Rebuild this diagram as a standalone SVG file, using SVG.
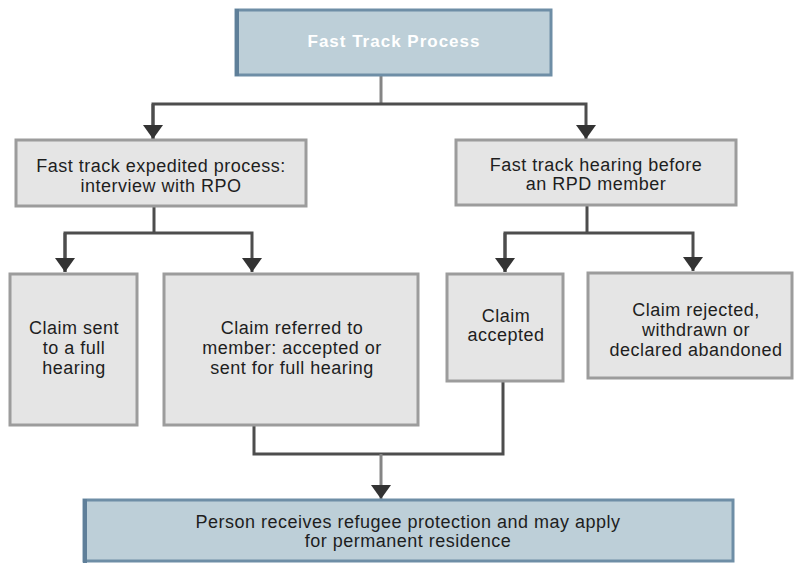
<svg xmlns="http://www.w3.org/2000/svg" width="795" height="563" viewBox="0 0 795 563">
<style>
.gbox{fill:#e5e5e5;stroke:#9c9c9c;stroke-width:3}
.bbox{fill:#bdcfd8;stroke:#6e8ea6;stroke-width:3}
.edge{stroke:#5f7f99;stroke-width:4}
.t{font-family:"Liberation Sans",Arial,sans-serif;font-size:18px;fill:#1e1e1e;text-anchor:middle;letter-spacing:0.5px}
.title{font-family:"Liberation Sans",Arial,sans-serif;font-size:17px;font-weight:bold;fill:#ffffff;text-anchor:middle;letter-spacing:1px}
.ln{fill:none;stroke:#4d4d4d;stroke-width:3}
.lt{fill:none;stroke:#858585;stroke-width:3}
</style>
<defs>
<marker id="ah" viewBox="0 0 14 20" refX="14" refY="10" markerWidth="14" markerHeight="20" markerUnits="userSpaceOnUse" orient="auto">
<path d="M0,0 L14,10 L0,20 z" fill="#333333"/>
</marker>
</defs>
<rect width="795" height="563" fill="#ffffff"/>
<g id="connectors">
<line class="lt" x1="381" y1="76" x2="381" y2="104"/>
<polyline class="ln" points="153,139 153,104 586,104 586,139" marker-end="url(#ah)"/>
<line class="ln" x1="153" y1="104" x2="153" y2="139" marker-end="url(#ah)"/>
<line class="ln" x1="154" y1="207" x2="154" y2="233"/>
<polyline class="ln" points="65,272 65,233 252,233 252,272" marker-end="url(#ah)"/>
<line class="ln" x1="65" y1="233" x2="65" y2="272" marker-end="url(#ah)"/>
<line class="ln" x1="587" y1="206" x2="587" y2="233"/>
<polyline class="ln" points="505,272 505,233 693,233 693,271" marker-end="url(#ah)"/>
<line class="ln" x1="505" y1="233" x2="505" y2="272" marker-end="url(#ah)"/>
<polyline class="ln" points="254,426 254,454 503,454 503,382"/>
<line class="lt" x1="381" y1="454" x2="381" y2="499" marker-end="url(#ah)"/>
</g>
<g id="n-title">
<rect class="bbox" x="236" y="10" width="315" height="65"/>
<line class="edge" x1="237" y1="9" x2="237" y2="76"/>
<text class="title" x="394" y="47">Fast Track Process</text>
</g>
<g id="n-expedited">
<rect class="gbox" x="16" y="140" width="290" height="66"/>
<text class="t" x="161" y="172">Fast track expedited process:</text>
<text class="t" x="161" y="192">interview with RPO</text>
</g>
<g id="n-hearing">
<rect class="gbox" x="456" y="140" width="280" height="65"/>
<text class="t" x="596" y="171">Fast track hearing before</text>
<text class="t" x="596" y="190">an RPD member</text>
</g>
<g id="n-full">
<rect class="gbox" x="10" y="274" width="127" height="151"/>
<text class="t" x="74" y="334">Claim sent</text>
<text class="t" x="74" y="354">to a full</text>
<text class="t" x="74" y="374">hearing</text>
</g>
<g id="n-referred">
<rect class="gbox" x="164" y="274" width="254" height="151"/>
<text class="t" x="292" y="334">Claim referred to</text>
<text class="t" x="292" y="354">member: accepted or</text>
<text class="t" x="292" y="374">sent for full hearing</text>
</g>
<g id="n-accepted">
<rect class="gbox" x="447" y="274" width="116" height="107"/>
<text class="t" x="506" y="322">Claim</text>
<text class="t" x="506" y="341">accepted</text>
</g>
<g id="n-rejected">
<rect class="gbox" x="588" y="273" width="204" height="105"/>
<text class="t" x="696" y="316">Claim rejected,</text>
<text class="t" x="696" y="336">withdrawn or</text>
<text class="t" x="696" y="356">declared abandoned</text>
</g>
<g id="n-protection">
<rect class="bbox" x="84" y="500" width="649" height="61"/>
<line class="edge" x1="85" y1="499" x2="85" y2="563"/>
<text class="t" x="408" y="528">Person receives refugee protection and may apply</text>
<text class="t" x="408" y="547">for permanent residence</text>
</g>
</svg>
